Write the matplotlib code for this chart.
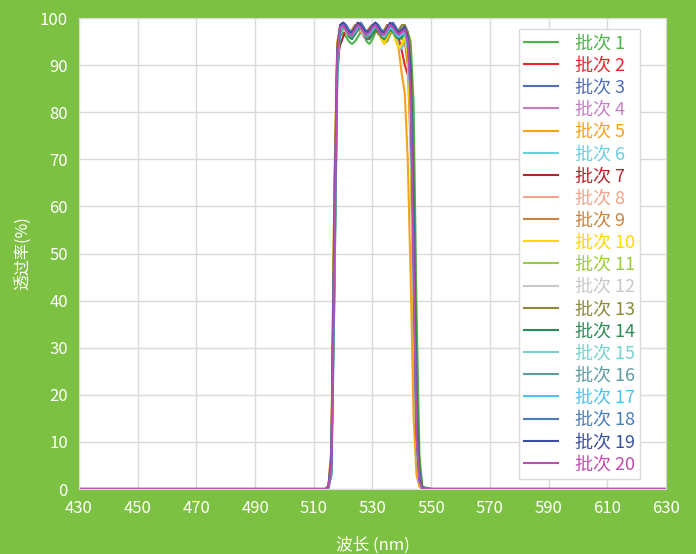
import matplotlib.pyplot as plt

plt.rcParams['font.family'] = ['Noto Sans CJK SC', 'DejaVu Sans']

# wavelength grid (nm)
wl = [430, 512, 513, 514, 515, 516, 517, 518, 519, 520, 521, 522, 523, 524, 525,
      526, 527, 528, 529, 530, 531, 532, 533, 534, 535, 536, 537, 538, 539, 540,
      541, 542, 543, 544, 545, 546, 547, 550, 630]

# transmittance (%) for each batch
s1 = [0, 0, 0, 0, 0.3, 6, 45, 88, 96, 97, 96, 95, 94.5, 95, 96, 97, 96.5, 95, 94.5, 95.5, 97, 97.5, 96.5, 95, 95, 96.5, 97.5, 97, 96, 95.5, 96.5, 97, 95, 82, 38, 7, 0.5, 0, 0]
s2 = [0, 0, 0, 0, 0.5, 6, 58, 94, 98, 98.5, 97.5, 96.5, 97, 98, 99, 98.5, 97.5, 96.5, 97, 98.5, 98.5, 97, 96, 97, 98.5, 98.5, 97.5, 96, 95.5, 93, 90, 88, 92, 55, 12, 1.5, 0.1, 0, 0]
s3 = [0, 0, 0, 0, 0.3, 4, 48, 91, 98, 99, 98.5, 97, 96.5, 97.5, 98.5, 99, 98, 97, 97, 98, 99, 98.5, 97, 96.5, 97.5, 98.5, 99, 98, 97, 97.5, 98.5, 97, 85, 45, 10, 1.5, 0.1, 0, 0]
s4 = [0, 0, 0, 0, 0.4, 5, 52, 92, 98.5, 99, 98, 97, 96.5, 97, 98, 97.5, 96, 95.5, 96.5, 98, 98.5, 97.5, 96.5, 97, 98, 98.5, 97.5, 96.5, 97, 98, 97.5, 95, 80, 40, 8, 1, 0.1, 0, 0]
s5 = [0, 0, 0, 0, 0.8, 9, 65, 95, 98.5, 98, 97, 96, 96.5, 97.5, 98.5, 98, 97, 96, 96.5, 97.5, 98, 97, 95.5, 94.5, 95.5, 97, 97.5, 96, 93, 88, 84, 70, 45, 15, 3, 0.5, 0, 0, 0]
s6 = [0, 0, 0, 0, 0.3, 3, 42, 89, 97.5, 98.5, 98, 96.5, 96, 97, 98, 98.5, 97.5, 96.5, 96.5, 97.5, 98.5, 98, 96.5, 96, 97, 98, 97, 95.5, 94, 93.5, 95, 93, 78, 35, 7, 1, 0.1, 0, 0]
s7 = [0, 0, 0, 0, 0.5, 6, 55, 92, 94.3, 96, 97.5, 97, 96, 96.5, 97.5, 98, 97, 96, 96, 97, 98, 97.5, 96.5, 96, 97, 98, 97.5, 96.5, 96, 96.5, 96, 92, 85, 60, 18, 3, 0.2, 0, 0]
s8 = [0, 0, 0, 0, 0.4, 5, 50, 92, 98, 98.5, 97.5, 96.5, 97, 98, 98.5, 97.5, 96.5, 96, 97, 98, 98.5, 97.5, 96.5, 97, 98, 98, 97, 96.5, 97, 97.5, 97, 94, 80, 42, 9, 1, 0.1, 0, 0]
s9 = [0, 0, 0, 0, 0.6, 7, 60, 94, 98.5, 98, 97, 96.5, 97.5, 98.5, 98, 97, 96.5, 97, 98, 98.5, 97.5, 96.5, 96.5, 97.5, 98.5, 98, 97, 96.5, 97, 97, 95, 90, 72, 35, 8, 1, 0.1, 0, 0]
s10 = [0, 0, 0, 0, 0.5, 6, 54, 93, 98, 98, 97, 96, 96.5, 97.5, 98, 97.5, 96.5, 96, 96.5, 97.5, 98, 97, 95.5, 94.7, 96, 97.5, 97, 95, 93.6, 94.5, 96, 92, 75, 38, 9, 1, 0.1, 0, 0]
s11 = [0, 0, 0, 0, 0.3, 4, 46, 90, 97.5, 98, 97.5, 96.5, 96, 97, 98, 98, 97, 96, 96.5, 97.5, 98, 97.5, 96.5, 96, 97, 98, 97.5, 96.5, 96.5, 97, 97, 95, 84, 48, 12, 2, 0.1, 0, 0]
s12 = [0, 0, 0, 0, 0.4, 5, 50, 91, 97.5, 98, 97, 96, 96.5, 97.5, 98, 97.5, 96.5, 96, 97, 98, 98, 97, 96, 96.5, 97.5, 98, 97, 96, 96.5, 97, 96.5, 94, 82, 44, 10, 1.5, 0.1, 0, 0]
s13 = [0, 0, 0, 0, 0.7, 8, 62, 94, 98, 98.5, 98, 97, 96.5, 97.5, 98.5, 98.5, 97.5, 96.5, 97, 98, 98.5, 97.5, 96.5, 97, 98, 98.5, 97.5, 97, 97.5, 98.5, 98.5, 97, 93, 70, 25, 4, 0.3, 0, 0]
s14 = [0, 0, 0, 0, 0.3, 3, 40, 88, 97, 98, 97.5, 96, 95.5, 96.5, 97.5, 98, 97, 95.5, 95.5, 96.5, 97.5, 97, 96, 95.5, 96.5, 97.5, 97, 96, 95.5, 96, 97, 96, 90, 65, 22, 4, 0.3, 0, 0]
s15 = [0, 0, 0, 0, 0.4, 5, 50, 91, 98, 98.5, 97.5, 96.5, 96.5, 97.5, 98.5, 98, 97, 96, 96.5, 97.5, 98.5, 97.5, 96.5, 96, 97, 98, 97.5, 96.5, 96, 96.5, 97, 94, 83, 46, 11, 1.5, 0.1, 0, 0]
s16 = [0, 0, 0, 0, 0.5, 6, 53, 92, 97.5, 98, 97.5, 96.5, 96, 97, 98, 98, 97, 96, 96.5, 97.5, 98, 97.5, 96.5, 96.5, 97.5, 98, 97.5, 96.5, 96.5, 97, 97, 95, 85, 50, 12, 2, 0.1, 0, 0]
s17 = [0, 0, 0, 0, 0.3, 4, 45, 90, 97.5, 98.5, 98, 97, 96.5, 97, 98, 98.5, 97.5, 96.5, 96.5, 97.5, 98.5, 98, 97, 96.5, 97, 98, 97.5, 96.5, 96, 96.5, 97, 94, 82, 44, 10, 1.5, 0.1, 0, 0]
s18 = [0, 0, 0, 0, 0.4, 5, 50, 92, 98.5, 99, 98.5, 97.5, 97, 97.5, 98.5, 99, 98, 97, 97, 98, 99, 98.5, 97.5, 97, 97.5, 98.5, 98.5, 97.5, 97, 97.5, 98, 96, 86, 50, 12, 2, 0.1, 0, 0]
s19 = [0, 0, 0, 0, 0.5, 6, 55, 93, 98.5, 99, 98, 97, 97, 98, 99, 98.5, 97.5, 97, 97.5, 98.5, 99, 98, 97, 97, 98, 99, 98.5, 97.5, 97, 97.5, 98, 96, 88, 52, 13, 2, 0.1, 0, 0]
s20 = [0, 0, 0, 0, 0.4, 5, 50, 92, 98, 98.5, 97.5, 96.5, 96.5, 97.5, 98.5, 98, 97, 96.5, 97, 98, 98.5, 97.5, 96.5, 96.5, 97.5, 98.5, 98, 97, 96.5, 97, 97.5, 95, 84, 47, 11, 1.5, 0.1, 0, 0]

series = [s1, s2, s3, s4, s5, s6, s7, s8, s9, s10,
          s11, s12, s13, s14, s15, s16, s17, s18, s19, s20]
labels = ['批次 %d' % (i + 1) for i in range(20)]
colors = ['#4DB34A', '#E8262B', '#4F6DB8', '#C77DC4', '#F9A11B', '#6CCFE0',
          '#B2262B', '#F0A58A', '#C8843F', '#FFD800', '#9ACB3C', '#C8C8C8',
          '#8A8A3A', '#2E8B57', '#76D3CB', '#5E9EA0', '#4FC3F0', '#4A7DB5',
          '#3A4FA0', '#C04CB0']

bg = '#7DC142'
fig = plt.figure(figsize=(6.96, 5.54), dpi=100, facecolor=bg)
ax = fig.add_axes([0.1135, 0.1173, 0.8434, 0.8502])

for y, c, lab in zip(series, colors, labels):
    ax.plot(wl, y, color=c, lw=1.5, label=lab)

ax.set_xlim(430, 630)
ax.set_ylim(0, 100)
ax.set_xticks(range(430, 631, 20))
ax.set_yticks(range(0, 101, 10))
ax.grid(True, color='#D9D9D9', lw=1)
ax.set_axisbelow(True)
for sp in ax.spines.values():
    sp.set_color('#D9D9D9')
ax.tick_params(length=0, colors='white', labelsize=12, pad=8)

ax.set_xlabel('波长 (nm)', color='white', fontsize=12, labelpad=14)
ax.set_ylabel('透过率(%)', color='white', fontsize=11.5, labelpad=6)

leg = ax.legend(loc='upper right', bbox_to_anchor=(0.956, 0.977),
                borderaxespad=0, fontsize=13, labelcolor='linecolor',
                handlelength=1.9, handletextpad=0.9, labelspacing=0.23,
                fancybox=False, framealpha=1, edgecolor='#D9D9D9',
                borderpad=0.3)
leg.get_frame().set_linewidth(1)

plt.savefig('out.png', dpi=100, facecolor=bg)
